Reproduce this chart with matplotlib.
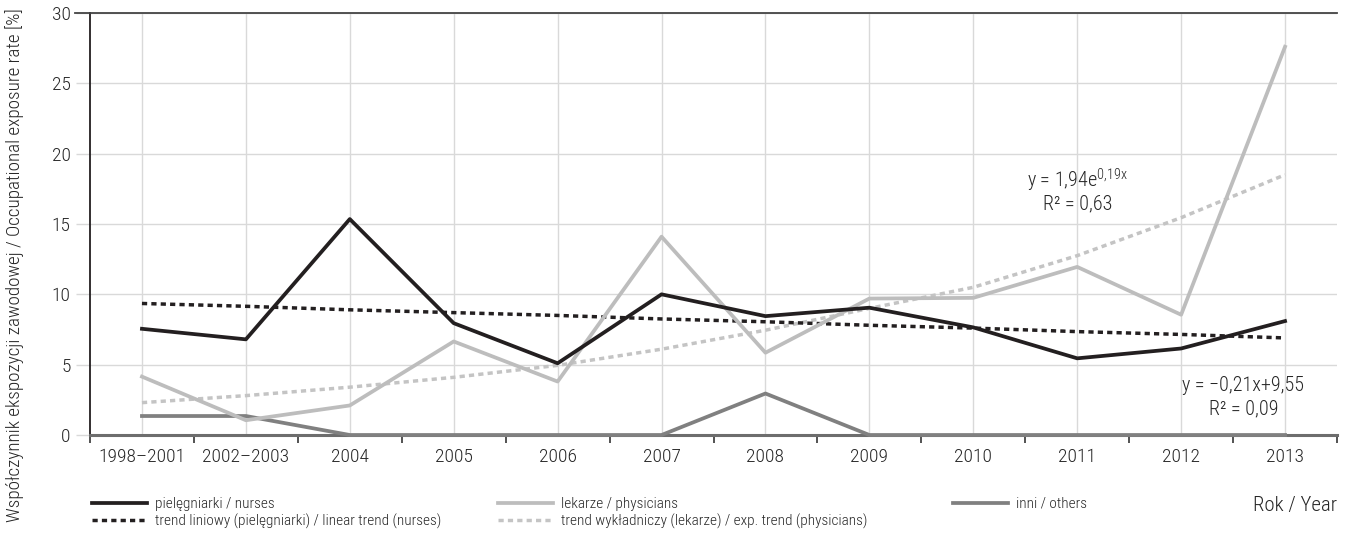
import numpy as np
import matplotlib
matplotlib.use('Agg')
import matplotlib.pyplot as plt
from matplotlib.lines import Line2D

FONTS = ['Roboto Condensed', 'IBM Plex Sans Condensed', 'DejaVu Sans']
plt.rcParams['font.family'] = FONTS
plt.rcParams['font.weight'] = 'light'
plt.rcParams['mathtext.fontset'] = 'custom'
plt.rcParams['mathtext.rm'] = 'Roboto Condensed:light'

# data
years = ['1998–2001', '2002–2003', '2004', '2005', '2006', '2007',
         '2008', '2009', '2010', '2011', '2012', '2013']
nurses = [7.55, 6.8, 15.35, 7.95, 5.1, 10.0, 8.45, 9.05, 7.65, 5.45, 6.15, 8.1]
physicians = [4.15, 1.05, 2.1, 6.65, 3.8, 14.1, 5.85, 9.7, 9.75, 11.95, 8.55, 27.6]
others = [1.35, 1.35, 0, 0, 0, 0, 2.95, 0, 0, 0, 0, 0]
lin_trend = [9.35, 9.15, 8.9, 8.7, 8.5, 8.25, 8.05, 7.8, 7.6, 7.35, 7.15, 6.9]
exp_trend = [2.3, 2.8, 3.4, 4.1, 4.95, 6.1, 7.45, 9.0, 10.5, 12.75, 15.45, 18.5]

DARK = '#231f20'
LIGHT = '#bdbdbd'
MID = '#808080'
GRID = '#d9d9d9'
TXT = '#262626'

W, H = 1353, 537
fig = plt.figure(figsize=(W / 100, H / 100), dpi=100)
ax = fig.add_axes([90 / W, 102 / H, 1247 / W, 422 / H])

x = np.arange(len(years))
lw = 2.7
ax.plot(x, exp_trend, color='#c4c4c4', lw=2.5, dashes=(1.5, 1.2), zorder=3)
ax.plot(x, lin_trend, color=DARK, lw=2.5, dashes=(1.5, 1.2), zorder=3)
ax.plot(x, others, color=MID, lw=lw, zorder=4, clip_on=False)
ax.plot(x, physicians, color=LIGHT, lw=lw, zorder=4)
ax.plot(x, nurses, color=DARK, lw=lw, zorder=5)

ax.set_xlim(-0.5, 11.5)
ax.set_ylim(0, 30)
ax.set_xticks(x)
ax.set_xticklabels(years)
ax.set_xticks(np.arange(-0.5, 12, 1), minor=True)
ax.set_yticks(np.arange(0, 31, 5))
ax.grid(True, which='major', color=GRID, lw=1, zorder=0)
ax.set_axisbelow(True)

ax.tick_params(axis='x', which='major', length=0, pad=9, labelsize=14, labelcolor=TXT)
ax.tick_params(axis='x', which='minor', length=6, width=1.3, color='#444444', direction='out')
ax.tick_params(axis='y', length=10, width=1, color=GRID, pad=4, labelsize=14, labelcolor=TXT)

ax.spines['right'].set_visible(False)
ax.spines['left'].set_color(DARK)
ax.spines['left'].set_linewidth(1.3)
ax.spines['bottom'].set_color('#6d6d6d')
ax.spines['bottom'].set_linewidth(2.2)
ax.spines['top'].set_color('#444444')
ax.spines['top'].set_linewidth(1.3)
ax.axhline(30, xmin=-0.012, xmax=0, color='#444444', lw=1.3, clip_on=False)

# trend equations
ax.text(9.0, 18.1, r'y = 1,94e$^{\mathrm{0{,}19x}}$', ha='center', va='center',
        fontsize=14.5, color=TXT)
ax.text(9.0, 16.45, 'R² = 0,63', ha='center', va='center', fontsize=14.5, color=TXT)
ax.text(10.6, 3.5, 'y = −0,21x+9,55', ha='center', va='center', fontsize=14.5, color=TXT)
ax.text(10.6, 1.85, 'R² = 0,09', ha='center', va='center', fontsize=14.5, color=TXT)

fig.text(15 / W, 1 - 265 / H,
         'Współczynnik ekspozycji zawodowej / Occupational exposure rate [%]',
         rotation=90, ha='center', va='center', fontsize=13.8, color=TXT)
fig.text(1337 / W, 1 - 505 / H, 'Rok / Year', ha='right', va='center',
         fontsize=15, color=TXT)

# legend in three columns
cols = [
    (92, [Line2D([], [], color=DARK, lw=lw),
          Line2D([], [], color=DARK, lw=2.5, dashes=(1.5, 1.2))],
     ['pielęgniarki / nurses', 'trend liniowy (pielęgniarki) / linear trend (nurses)']),
    (498, [Line2D([], [], color=LIGHT, lw=lw),
           Line2D([], [], color='#c4c4c4', lw=2.5, dashes=(1.5, 1.2))],
     ['lekarze / physicians', 'trend wykładniczy (lekarze) / exp. trend (physicians)']),
    (953, [Line2D([], [], color=MID, lw=lw)], ['inni / others']),
]
for x0, handles, labels in cols:
    leg = fig.legend(handles, labels, loc='upper left',
                     bbox_to_anchor=(x0 / W, 1 - 497 / H), frameon=False,
                     borderpad=0, borderaxespad=0, handlelength=3.6,
                     handletextpad=0.55, labelspacing=0.15, fontsize=11)
    for t in leg.get_texts():
        t.set_color(TXT)

fig.savefig('out.png', dpi=100)
